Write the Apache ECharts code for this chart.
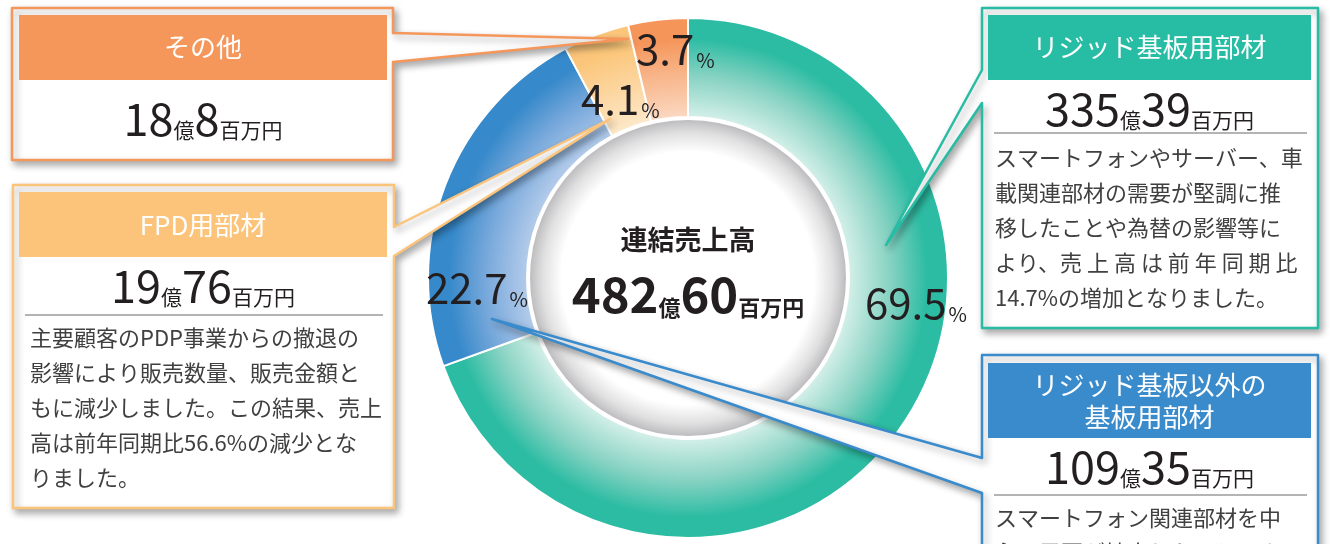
<!DOCTYPE html>
<html><head><meta charset="utf-8">
<script src="https://cdn.jsdelivr.net/npm/echarts@6/dist/echarts.min.js"></script>
<style>html,body{margin:0;padding:0;background:#fff}#c{width:1331px;height:544px}</style>
</head><body><div id="c"></div>
<script>
// ---- data ----
const categories = ['リジッド基板用部材', 'リジッド基板以外の\n基板用部材', 'FPD用部材', 'その他'];
const sharePct = [69.5, 22.7, 4.1, 3.7];
const amountOku = [335, 109, 19, 18];      // 億円
const amountMillion = [39, 35, 76, 8];     // 百万円
const totalOku = 482;
const totalMillion = 60;
const centerTitle = '連結売上高';
const descTeal = ['スマートフォンやサーバー、車', '載関連部材の需要が堅調に推', '移したことや為替の影響等に', 'より、売 上 高 は 前 年 同 期 比', '14.7%の増加となりました。'];
const descBlue = ['スマートフォン関連部材を中', '心に需要が拡大したことによ'];
const descFpd = ['主要顧客のPDP事業からの撤退の', '影響により販売数量、販売金額と', 'もに減少しました。この結果、売上', '高は前年同期比56.6%の減少とな', 'りました。'];
const descOther = [];
const descriptions = [descTeal, descBlue, descFpd, descOther];

// ---- styles / layout ----
const FONT = '"Noto Sans CJK JP", "Noto Sans", sans-serif';
const CX = 688, CY = 278, R_OUT = 260, R_IN = 161;
const sliceColors = [
  ['#d3efe8', '#86d2c2', '#2cbca3'],
  ['#b3cbea', '#77a8db', '#3689ca'],
  ['#fde8c9', '#fcd59e', '#fbc67a'],
  ['#fbd8c1', '#f8b68b', '#f5955a']
];
const boxColors = ['#27bca4', '#3a8bcc', '#fcc47a', '#f5965b'];
const labelPos = [[865, 302], [426, 287], [581, 98], [636, 48]];

function grad(c) {
  return { type: 'radial', x: CX, y: CY, r: R_OUT, global: true,
    colorStops: [{offset: 0, color: c[0]}, {offset: R_IN / R_OUT, color: c[0]}, {offset: 0.78, color: c[1]}, {offset: 0.92, color: c[2]}, {offset: 1, color: c[2]}] };
}

const boxes = [
  {i: 0, x: 982, y: 8, w: 336, h: 320, side: 'left', p: [70, 103], tip: [886, 245], head: [988, 15, 323, 65], titleY: 47, valueY: 108, sepY: 133, bodyX: 995, bodyY: 158},
  {i: 1, x: 982, y: 355, w: 336, h: 230, side: 'left', p: [458, 493], tip: [492, 319], head: [988, 363, 323, 75], titleY: 401, valueY: 466, sepY: 495, bodyX: 995, bodyY: 518},
  {i: 2, x: 13, y: 185, w: 381, h: 323, side: 'right', p: [227, 256], tip: [610, 119], head: [19, 192, 368, 65], titleY: 225, valueY: 285, sepY: 315, bodyX: 30, bodyY: 338},
  {i: 3, x: 12, y: 8, w: 381, h: 152, side: 'right', p: [33, 62], tip: [628, 39], head: [19, 15, 368, 65], titleY: 47, valueY: 118, sepY: null, bodyX: 30, bodyY: 0}
];

const graphics = [];
boxes.forEach(b => {
  const col = boxColors[b.i];
  let pts;
  if (b.side === 'right') {
    const xr = b.x + b.w;
    pts = [[b.x, b.y], [xr, b.y], [xr, b.p[0]], b.tip, [xr, b.p[1]], [xr, b.y + b.h], [b.x, b.y + b.h]];
  } else {
    pts = [[b.x, b.y], [b.x + b.w, b.y], [b.x + b.w, b.y + b.h], [b.x, b.y + b.h], [b.x, b.p[1]], b.tip, [b.x, b.p[0]]];
  }
  graphics.push({type: 'polygon', z: 10, shape: {points: pts},
    style: {fill: '#fff', stroke: col, lineWidth: 2.5, lineJoin: 'round', shadowColor: 'rgba(0,0,0,0.32)', shadowBlur: 7, shadowOffsetX: 3, shadowOffsetY: 4}});
  graphics.push({type: 'rect', z: 11, shape: {x: b.head[0], y: b.head[1], width: b.head[2], height: b.head[3]}, style: {fill: col}});
  const cx = b.head[0] + b.head[2] / 2;
  graphics.push({type: 'text', z: 12, x: cx, y: b.titleY,
    style: {text: categories[b.i], font: '26px ' + FONT, fill: '#fff', align: 'center', verticalAlign: 'middle', lineHeight: 32}});
  graphics.push({type: 'text', z: 12, x: cx, y: b.valueY,
    style: {text: '{n|' + amountOku[b.i] + '}{s|億}{n|' + amountMillion[b.i] + '}{s|百万円}', align: 'center', verticalAlign: 'middle',
      rich: {n: {fontSize: 45, fontFamily: FONT, fill: '#231f20', verticalAlign: 'bottom', lineHeight: 46},
             s: {fontSize: 21, fontFamily: FONT, fill: '#231f20', verticalAlign: 'bottom', lineHeight: 34}}}});
  if (b.sepY) {
    graphics.push({type: 'line', z: 12, shape: {x1: b.head[0] + 6, y1: b.sepY, x2: b.head[0] + b.head[2] - 4, y2: b.sepY}, style: {stroke: '#6b6b6b', lineWidth: 1.2}});
  }
  if (descriptions[b.i].length) {
    graphics.push({type: 'text', z: 12, x: b.bodyX, y: b.bodyY - 17.5,
      style: {text: descriptions[b.i].join('\n'), font: '22px ' + FONT, fill: '#404040', align: 'left', verticalAlign: 'top', lineHeight: 35}});
  }
});
graphics.push({type: 'text', z: 12, x: CX, y: 240,
  style: {text: centerTitle, font: 'bold 27px ' + FONT, fill: '#231f20', align: 'center', verticalAlign: 'middle'}});
graphics.push({type: 'text', z: 12, x: CX, y: 293,
  style: {text: '{n|' + totalOku + '}{s|億}{n|' + totalMillion + '}{s|百万円}', align: 'center', verticalAlign: 'middle',
    rich: {n: {fontSize: 49, fontWeight: 'bold', fontFamily: FONT, fill: '#231f20', verticalAlign: 'bottom', lineHeight: 52},
           s: {fontSize: 22, fontWeight: 'bold', fontFamily: FONT, fill: '#231f20', verticalAlign: 'bottom', lineHeight: 38}}}});

const chart = echarts.init(document.getElementById('c'), null, {renderer: 'canvas'});
chart.setOption({
  animation: false,
  backgroundColor: '#ffffff',
  series: [
    {
      type: 'pie', silent: true, center: [CX, CY], radius: [0, 158], z: 1,
      label: {show: false}, labelLine: {show: false},
      data: [{value: 1, itemStyle: {color: {type: 'radial', x: CX, y: CY, r: 158, global: true,
        colorStops: [{offset: 0, color: '#ffffff'}, {offset: 0.8, color: '#ffffff'}, {offset: 0.92, color: '#e0e0e1'}, {offset: 1, color: '#bdbdbf'}]}}}]
    },
    {
      type: 'pie', silent: true, center: [CX, CY], radius: [R_IN, R_OUT], startAngle: 90, clockwise: true,
      avoidLabelOverlap: false, z: 2,
      itemStyle: {borderColor: '#fff', borderWidth: 2},
      data: categories.map((c, i) => ({name: c, value: sharePct[i], itemStyle: {color: grad(sliceColors[i])}})),
      label: {show: true, position: 'inside',
        formatter: p => '{n|' + p.value + '}{p|%}',
        rich: {n: {fontSize: 42, fontFamily: FONT, color: '#231f20', verticalAlign: 'bottom', lineHeight: 44},
               p: {fontSize: 20, fontFamily: FONT, color: '#231f20', verticalAlign: 'bottom', lineHeight: 32, padding: [0, 0, 0, 2]}}},
      labelLine: {show: false},
      labelLayout: p => ({x: labelPos[p.dataIndex][0], y: labelPos[p.dataIndex][1], align: 'left', verticalAlign: 'middle'})
    }
  ],
  graphic: {elements: graphics}
});
</script></body></html>
